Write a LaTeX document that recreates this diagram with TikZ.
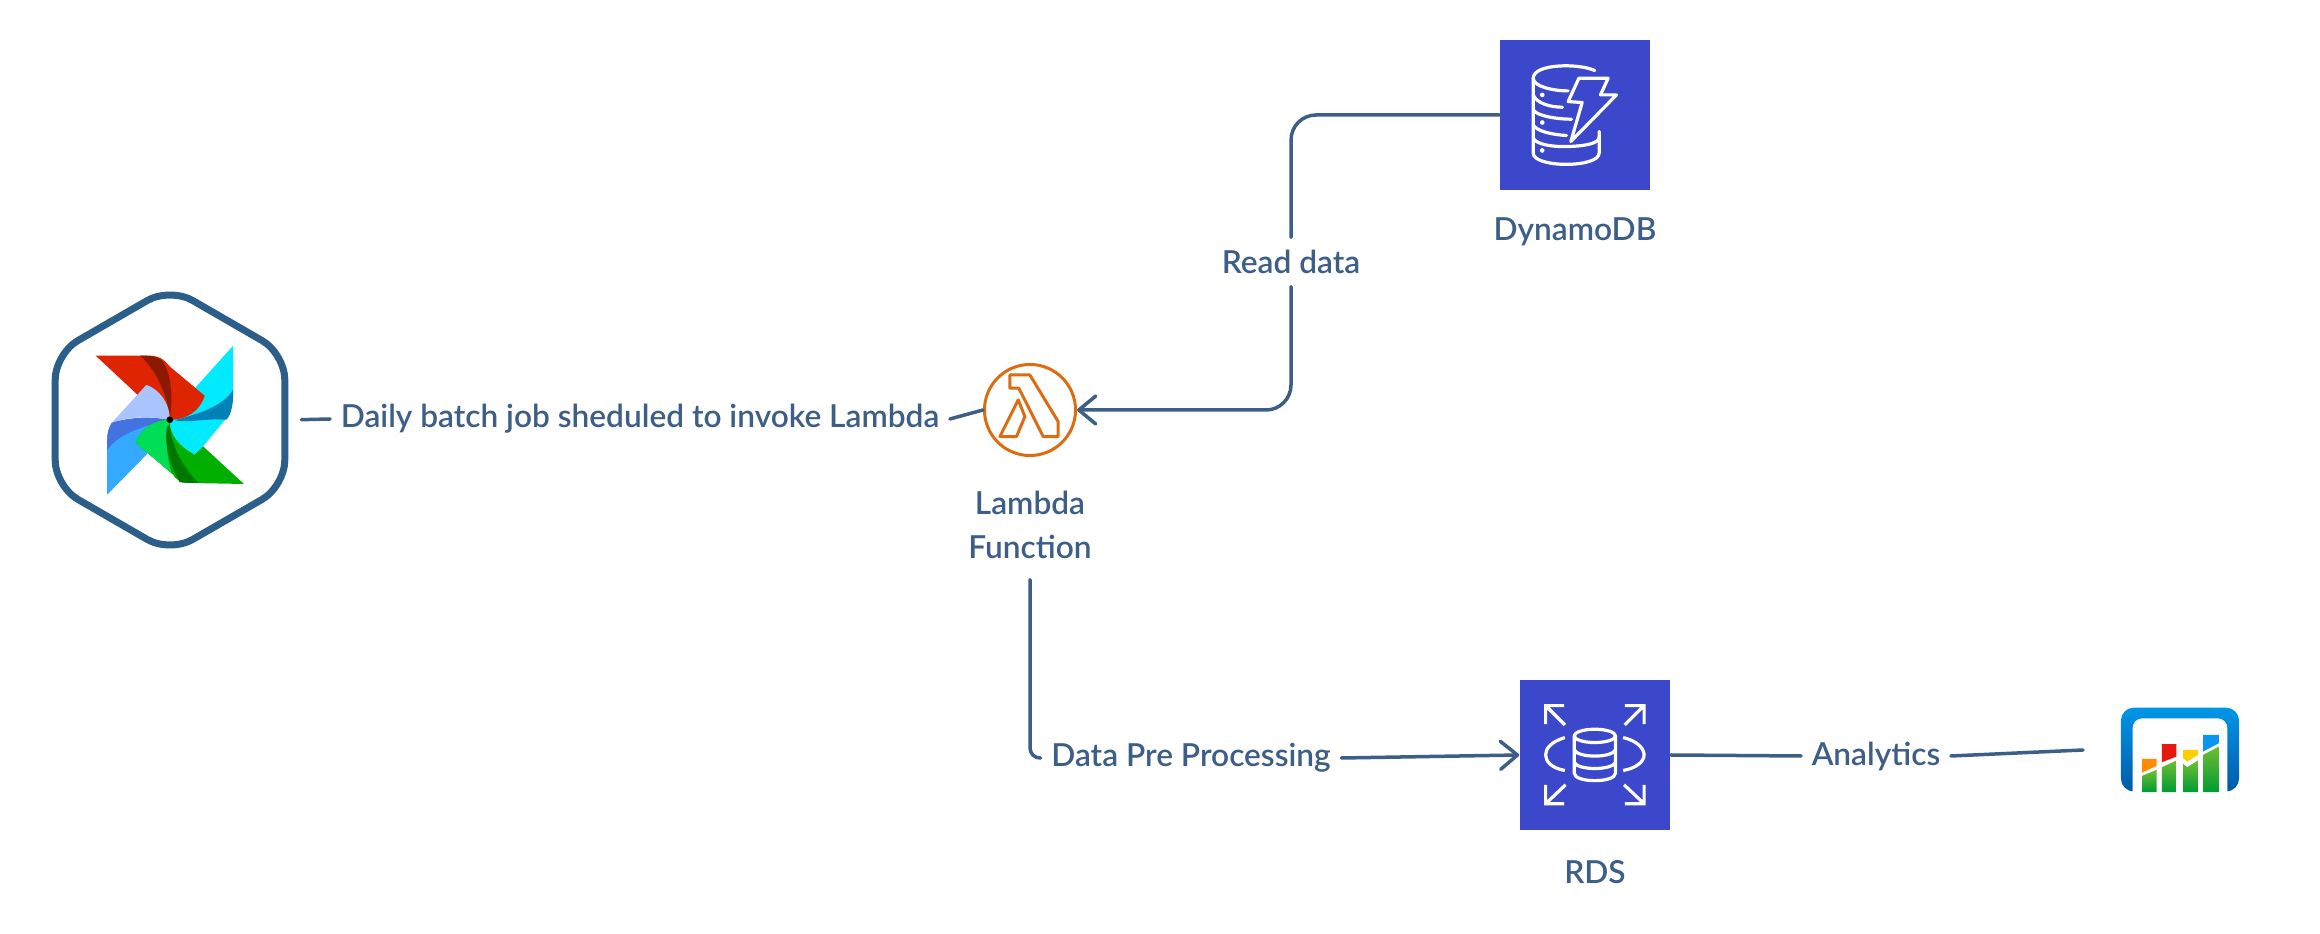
\documentclass[tikz,border=0pt]{standalone}
\usepackage{fontspec}
\setmainfont{Lato Semibold}
\usetikzlibrary{arrows.meta,shapes.geometric}
\definecolor{linkblue}{HTML}{3C5E87}
\definecolor{hexblue}{HTML}{2B5F8A}
\definecolor{awsblue}{HTML}{3B48CC}
\definecolor{awsorange}{HTML}{DD6B10}
\tikzset{
  conn/.style={draw=linkblue, line width=.035cm, rounded corners=.25cm, line cap=round},
  flow/.style={conn, -{Straight Barb[length=.17cm, width=.28cm, round]}},
  linelabel/.style={text=linkblue, font=\fontsize{9}{12.5}\selectfont, inner ysep=.06cm, inner xsep=.1cm, align=center},
  awsbox/.style={fill=awsblue, minimum size=1.5cm, inner sep=0pt},
  whiteline/.style={draw=white, line width=.032cm, line join=round, line cap=round},
}
\begin{document}
\begin{tikzpicture}[x=.01cm, y=-.01cm]
\useasboundingbox (0,0) rectangle (2320,934);

\node[draw=hexblue, line width=.07cm, regular polygon, regular polygon sides=6, shape border rotate=30, minimum size=2.65cm, inner sep=0pt, rounded corners=.26cm] (airflow) at (170,420) {};
\node[draw=awsorange, line width=.03cm, circle, minimum size=.91cm, inner sep=0pt] (lambda) at (1030,410) {};
\node[awsbox] (dynamo) at (1575,115) {};
\node[awsbox] (rds) at (1595,755) {};
\coordinate (chart) at (2083,750);

\node[linelabel] (lambdalabel) at (1030,525) {Lambda\\Function};
\node[linelabel] (dynamolabel) at (1575,232) {DynamoDB};
\node[linelabel] (rdslabel) at (1595,872) {RDS};
\node[linelabel] (dailylabel) at (640,419) {Daily batch job sheduled to invoke Lambda};
\node[linelabel, inner ysep=.12cm] (readlabel) at (1291,262) {Read data};
\node[linelabel] (datalabel) at (1191,758) {Data Pre Processing};
\node[linelabel] (analyticslabel) at (1876,756) {Analytics};

\draw[conn, shorten <=.13cm] (airflow.east) -- (dailylabel.west);
\draw[conn] (dailylabel.east) -- (lambda.west);
\draw[conn] (dynamo.west) -| (readlabel.north);
\draw[flow] (readlabel.south) |- (lambda.east);
\draw[conn, rounded corners=.1cm] ([yshift=-.14cm]lambdalabel.south) |- (datalabel.west);
\draw[flow] (datalabel.east) -- (rds.west);
\draw[conn] (rds.east) -- (analyticslabel.west);
\draw[conn] (analyticslabel.east) -- (chart);

% pinwheel
\begin{scope}[shift={(30,270)}, x=.00333cm, y=-.00333cm]
\fill[fill={rgb,255:red,0;green,235;blue,255}] (610,228) -- (610,380) .. controls (610,410) and (600,435) .. (590,445) -- (520,530) -- (495,555) .. controls (450,530) and (420,500) .. (420,450) -- (500,350) -- cycle;
\fill[fill={rgb,255:red,0;green,130;blue,185}] (435,452) .. controls (510,430) and (580,410) .. (610,360) -- (610,385) .. controls (608,420) and (600,440) .. (590,450) .. controls (530,445) and (480,460) .. (435,452) -- cycle;
\fill[fill={rgb,255:red,222;green,36;blue,0}] (197,257) -- (350,257) .. controls (385,257) and (400,265) .. (420,290) -- (525,378) .. controls (510,425) and (470,450) .. (420,450) -- (320,372) -- cycle;
\fill[fill={rgb,255:red,140;green,26;blue,0}] (330,257) .. controls (380,300) and (415,380) .. (420,445) .. controls (430,380) and (425,310) .. (395,270) .. controls (380,260) and (360,257) .. (330,257) -- cycle;
\fill[fill={rgb,255:red,51;green,170;blue,255}] (232,675) -- (232,510) .. controls (232,480) and (245,460) .. (250,455) -- (420,450) -- (350,555) -- cycle;
\fill[fill={rgb,255:red,170;green,196;blue,255}] (245,460) -- (350,345) .. controls (390,360) and (420,400) .. (420,450) .. controls (340,435) and (280,445) .. (245,460) -- cycle;
\fill[fill={rgb,255:red,68;green,115;blue,225}] (232,540) .. controls (270,490) and (340,470) .. (415,450) .. controls (340,435) and (270,450) .. (245,460) .. controls (235,475) and (232,495) .. (232,510) -- cycle;
\fill[fill={rgb,255:red,0;green,175;blue,0}] (643,643) -- (480,640) .. controls (450,640) and (435,625) .. (430,615) -- (318,520) .. controls (330,480) and (370,450) .. (420,450) .. controls (420,500) and (450,530) .. (495,555) -- (520,530) -- cycle;
\fill[fill={rgb,255:red,0;green,222;blue,85}] (318,520) .. controls (330,480) and (370,450) .. (420,450) .. controls (405,500) and (410,560) .. (425,610) -- cycle;
\fill[fill={rgb,255:red,0;green,120;blue,0}] (412,470) .. controls (400,540) and (430,600) .. (450,638) .. controls (470,640) and (490,640) .. (505,640) .. controls (470,600) and (430,550) .. (420,470) -- cycle;
\fill (420,450) circle (10);
\end{scope}

% lambda glyph
\begin{scope}[shift={(950,340)}, x=.00333cm, y=-.00333cm]
\draw[draw=awsorange, line width=.03cm, line join=round] (180,105) -- (240,105) -- (325,245) -- (325,290) -- (280,290) -- (207,145) -- (180,145) -- cycle;
\draw[draw=awsorange, line width=.03cm, line join=round] (205,180) -- (225,230) -- (200,290) -- (150,290) -- cycle;
\end{scope}

% dynamodb icon
\begin{scope}[shift={(1480,30)}, x=.00333cm, y=-.00333cm]
\draw[whiteline] (345,122) .. controls (300,100) and (160,100) .. (160,145) .. controls (160,170) and (220,183) .. (265,183);
\draw[whiteline] (160,145) -- (160,370) .. controls (160,415) and (358,415) .. (358,370) -- (358,305);
\draw[whiteline] (160,195) .. controls (170,220) and (210,232) .. (248,232);
\draw[whiteline] (160,240) .. controls (170,258) and (230,268) .. (275,268);
\draw[whiteline] (160,285) .. controls (170,305) and (220,315) .. (260,317);
\draw[whiteline] (160,325) .. controls (170,345) and (220,352) .. (270,350) .. controls (320,348) and (358,340) .. (358,322);
\fill[white] (187,195) circle (7) (187,278) circle (7) (187,362) circle (7);
\draw[whiteline] (297,145) -- (385,145) -- (362,195) -- (410,195) -- (273,335) -- (307,218) -- (265,215) -- cycle;
\end{scope}

% rds icon
\begin{scope}[shift={(1500,670)}, x=.00333cm, y=-.00333cm]
\draw[whiteline, line cap=butt, line join=miter] (193,107) -- (137,107) -- (137,163) (137,107) -- (195,165);
\draw[whiteline, line cap=butt, line join=miter] (375,107) -- (433,107) -- (433,163) (433,107) -- (375,165);
\draw[whiteline, line cap=butt, line join=miter] (193,402) -- (137,402) -- (137,345) (137,402) -- (197,345);
\draw[whiteline, line cap=butt, line join=miter] (375,402) -- (433,402) -- (433,345) (433,402) -- (373,345);
\draw[whiteline, line cap=butt] (195,203) .. controls (155,215) and (137,235) .. (137,255) .. controls (137,275) and (155,295) .. (195,302);
\draw[whiteline, line cap=butt] (370,203) .. controls (410,212) and (433,235) .. (433,255) .. controls (433,275) and (410,295) .. (370,302);
\draw[whiteline] (285,198) ellipse (62 and 20);
\draw[whiteline] (223,198) -- (223,310) .. controls (223,340) and (347,340) .. (347,310) -- (347,198);
\draw[whiteline] (223,240) .. controls (235,265) and (335,265) .. (347,240);
\draw[whiteline] (223,278) .. controls (235,302) and (335,302) .. (347,278);
\end{scope}

% chart icon
\begin{scope}[shift={(2060,690)}, x=.00333cm, y=-.00333cm]
\shade[top color={rgb,255:red,0;green,150;blue,230}, bottom color={rgb,255:red,0;green,90;blue,170}, rounded corners=.13cm] (183,305) rectangle (538,53);
\fill[white, rounded corners=.1cm] (218,340) rectangle (503,85);
\fill[white] (232,280) rectangle (490,310);
\fill[fill={rgb,255:red,255;green,140;blue,0}] (247,207) -- (290,207) -- (290,228) -- (247,248) -- cycle;
\fill[fill={rgb,255:red,230;green,25;blue,15}] (306,163) -- (350,163) -- (350,200) -- (306,217) -- cycle;
\fill[fill={rgb,255:red,255;green,205;blue,0}] (370,180) -- (414,180) -- (414,195) -- (382,215) -- (370,205) -- cycle;
\fill[fill={rgb,255:red,10;green,150;blue,240}] (430,135) -- (477,135) -- (477,160) -- (430,185) -- cycle;
\shade[top color={rgb,255:red,110;green,190;blue,50}, bottom color={rgb,255:red,0;green,155;blue,50}] (247,258) -- (290,240) -- (290,307) -- (247,307) -- cycle;
\shade[top color={rgb,255:red,110;green,190;blue,50}, bottom color={rgb,255:red,0;green,155;blue,50}] (306,232) -- (350,212) -- (350,307) -- (306,307) -- cycle;
\shade[top color={rgb,255:red,110;green,190;blue,50}, bottom color={rgb,255:red,0;green,155;blue,50}] (370,222) -- (382,232) -- (414,212) -- (414,307) -- (370,307) -- cycle;
\shade[top color={rgb,255:red,110;green,190;blue,50}, bottom color={rgb,255:red,0;green,155;blue,50}] (430,195) -- (477,170) -- (477,307) -- (430,307) -- cycle;
\end{scope}
\end{tikzpicture}
\end{document}
